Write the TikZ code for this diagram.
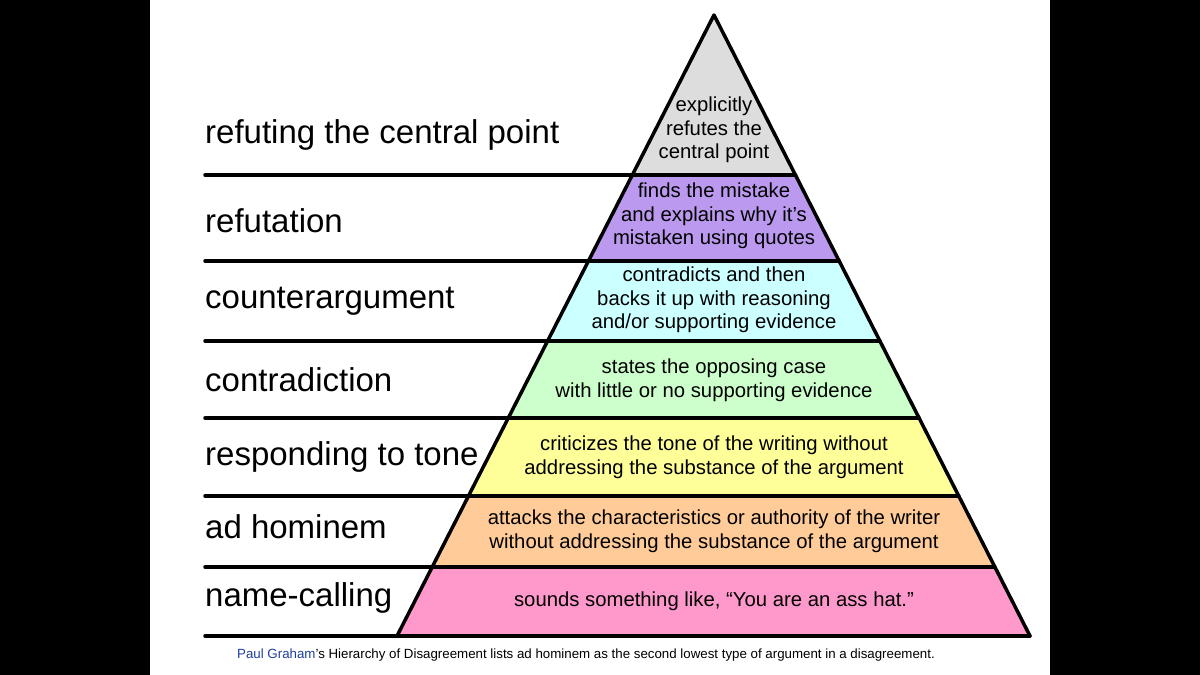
\documentclass[tikz,border=0pt]{standalone}
\usepackage{fontspec}
\setmainfont{Liberation Sans}
\usetikzlibrary{calc}
\definecolor{cgray}{HTML}{DDDDDD}
\definecolor{cpurple}{HTML}{BB99EE}
\definecolor{ccyan}{HTML}{CCFFFF}
\definecolor{cgreen}{HTML}{CCFFCC}
\definecolor{cyellow}{HTML}{FFFF99}
\definecolor{corange}{HTML}{FFCC99}
\definecolor{cpink}{HTML}{FF99CC}
\definecolor{clink}{HTML}{1F3F9F}
\begin{document}
\begin{tikzpicture}[x=1pt,y=-1pt,
  lab/.style={anchor=west,font=\fontsize{33}{36}\selectfont,inner sep=0},
  band/.style={align=center,font=\fontsize{20.3}{23.5}\selectfont,inner sep=0},
  edge/.style={line width=3.5pt,line cap=round,line join=round}]
\useasboundingbox (0,0) rectangle (1200,675);
\fill[black] (0,0) rectangle (150,675);
\fill[black] (1050,0) rectangle (1200,675);
\coordinate (A) at (714,15);
\coordinate (L) at (397,636);
\coordinate (R) at (1030,636);
\foreach \i/\t in {0/0,1/0.2577,2/0.3961,3/0.5250,4/0.6490,5/0.7746,6/0.8889,7/1}{
  \coordinate (l\i) at ($(A)!\t!(L)$);
  \coordinate (r\i) at ($(A)!\t!(R)$);
}
\fill[cgray] (l0) -- (l1) -- (r1) -- cycle;
\fill[cpurple] (l1) -- (l2) -- (r2) -- (r1) -- cycle;
\fill[ccyan] (l2) -- (l3) -- (r3) -- (r2) -- cycle;
\fill[cgreen] (l3) -- (l4) -- (r4) -- (r3) -- cycle;
\fill[cyellow] (l4) -- (l5) -- (r5) -- (r4) -- cycle;
\fill[corange] (l5) -- (l6) -- (r6) -- (r5) -- cycle;
\fill[cpink] (l6) -- (l7) -- (r7) -- (r6) -- cycle;
\draw[edge] (L) -- (A) -- (R);
\foreach \i in {1,...,7}{
  \coordinate (s\i) at (205,0 |- l\i);
  \draw[edge] (s\i) -- (r\i);
}
\node[lab] (n1) at (205,135) {refuting the central point};
\node[lab] (n2) at (205,221) {refutation};
\node[lab] (n3) at (205,301) {counterargument};
\node[lab] (n4) at (205,380) {contradiction};
\node[lab] (n5) at (205,457) {responding to tone};
\node[lab] (n6) at (205,527) {ad hominem};
\node[lab] (n7) at (205,598) {name-calling};
\node[band] (b1) at (714,130) {explicitly\\refutes the\\central point};
\node[band] (b2) at (714,216) {finds the mistake\\and explains why it's\\mistaken using quotes};
\node[band] (b3) at (714,300) {contradicts and then\\backs it up with reasoning\\and/or supporting evidence};
\node[band] (b4) at (714,380) {states the opposing case\\with little or no supporting evidence};
\node[band] (b5) at (714,457) {criticizes the tone of the writing without\\addressing the substance of the argument};
\node[band] (b6) at (714,531) {attacks the characteristics or authority of the writer\\without addressing the substance of the argument};
\node[band] (b7) at (714,601) {sounds something like, “You are an ass hat.”};
\node[anchor=west,inner sep=0,font=\fontsize{13.3}{16}\selectfont] (cap) at (237,655) {\textcolor{clink}{Paul Graham}'s Hierarchy of Disagreement lists ad hominem as the second lowest type of argument in a disagreement.};
\end{tikzpicture}
\end{document}
